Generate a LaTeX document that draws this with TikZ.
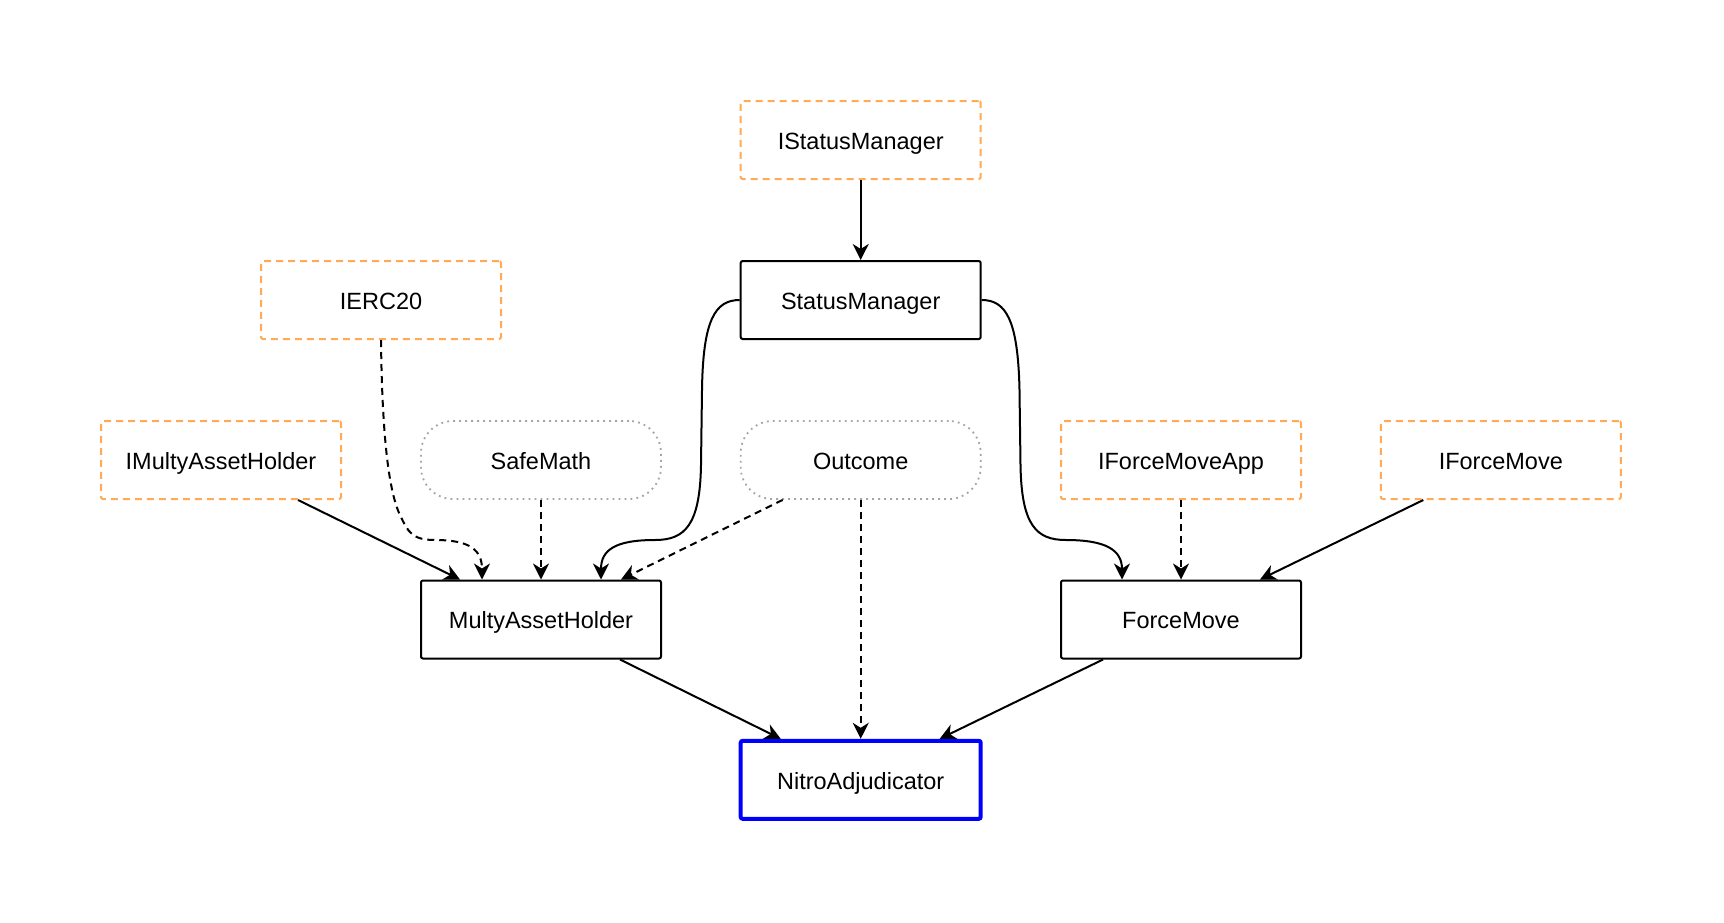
\documentclass[tikz,border=0pt]{standalone}
\usepackage{fontspec}
\setmainfont{Liberation Sans}
\usetikzlibrary{arrows.meta}
\definecolor{ifaceorange}{RGB}{255,170,85}
\definecolor{libgray}{RGB}{165,165,165}
\definecolor{mainblue}{RGB}{0,0,255}
\begin{document}
\begin{tikzpicture}[x=1pt,y=-1pt,
  base/.style={rectangle, minimum width=240pt, minimum height=78pt, inner sep=0pt,
    text height=18.8pt, text depth=0pt,
    font=\fontsize{23.5}{28}\selectfont, text=black},
  contract/.style={base, draw=black, line width=2pt, rounded corners=2pt},
  iface/.style={base, draw=ifaceorange, line width=2pt, dash pattern=on 7pt off 5pt, rounded corners=2pt},
  lib/.style={base, draw=libgray, line width=1.8pt, dash pattern=on 1.8pt off 4.2pt, rounded corners=32pt},
  mainc/.style={base, draw=mainblue, line width=4pt, rounded corners=2pt},
  edge/.style={draw=black, line width=2pt, -{Stealth[length=16pt,width=16pt,inset=5pt]}},
  dep/.style={edge, dash pattern=on 7pt off 5pt},
]
\fill[white] (0,0) rectangle (1724,922);
\useasboundingbox (0,0) rectangle (1724,922);

% nodes
\node[iface]    (ism)   at (860.7,140) {IStatusManager};
\node[contract] (sm)    at (860.7,300) {StatusManager};
\node[iface]    (ierc)  at (381,300)   {IERC20};
\node[iface]    (ima)   at (221,460)   {IMultyAssetHolder};
\node[lib]      (safe)  at (541,460)   {SafeMath};
\node[lib]      (outc)  at (860.7,460) {Outcome};
\node[iface]    (ifma)  at (1181,460)  {IForceMoveApp};
\node[iface]    (ifm)   at (1500.8,460) {IForceMove};
\node[contract] (mah)   at (541,619.5) {MultyAssetHolder};
\node[contract] (fm)    at (1181,619.5) {ForceMove};
\node[mainc]    (nitro) at (860.7,779.8) {NitroAdjudicator};

% connectors
\draw[edge] (ism.south) -- (sm.north);
\draw[edge] (sm.west) .. controls (715,300) and (703,320) .. (702,390)
  -- (701,465) .. controls (700,525) and (685,540) .. (655,540)
  .. controls (615,540) and (601,550) .. ([xshift=60pt]mah.north);
\draw[edge] (sm.east) .. controls (1006,300) and (1018,320) .. (1019.5,390)
  -- (1020.5,465) .. controls (1021.5,525) and (1036,540) .. (1066,540)
  .. controls (1106,540) and (1122,550) .. ([xshift=-59pt]fm.north);
\draw[dep] (ierc.south) .. controls (382,430) and (388,490) .. (400,515)
  .. controls (408,532) and (412,540) .. (435,540)
  .. controls (470,540) and (482,550) .. ([xshift=-59pt]mah.north);
\draw[edge] ([xshift=77pt]ima.south) -- ([xshift=-81pt]mah.north);
\draw[dep] (safe.south) -- (mah.north);
\draw[dep] ([xshift=-78pt]outc.south) -- ([xshift=80pt]mah.north);
\draw[dep] (outc.south) -- (nitro.north);
\draw[dep] (ifma.south) -- (fm.north);
\draw[edge] ([xshift=-77.5pt]ifm.south) -- ([xshift=79pt]fm.north);
\draw[edge] ([xshift=79pt]mah.south) -- ([xshift=-80pt]nitro.north);
\draw[edge] ([xshift=-78pt]fm.south) -- ([xshift=79pt]nitro.north);
\end{tikzpicture}
\end{document}
